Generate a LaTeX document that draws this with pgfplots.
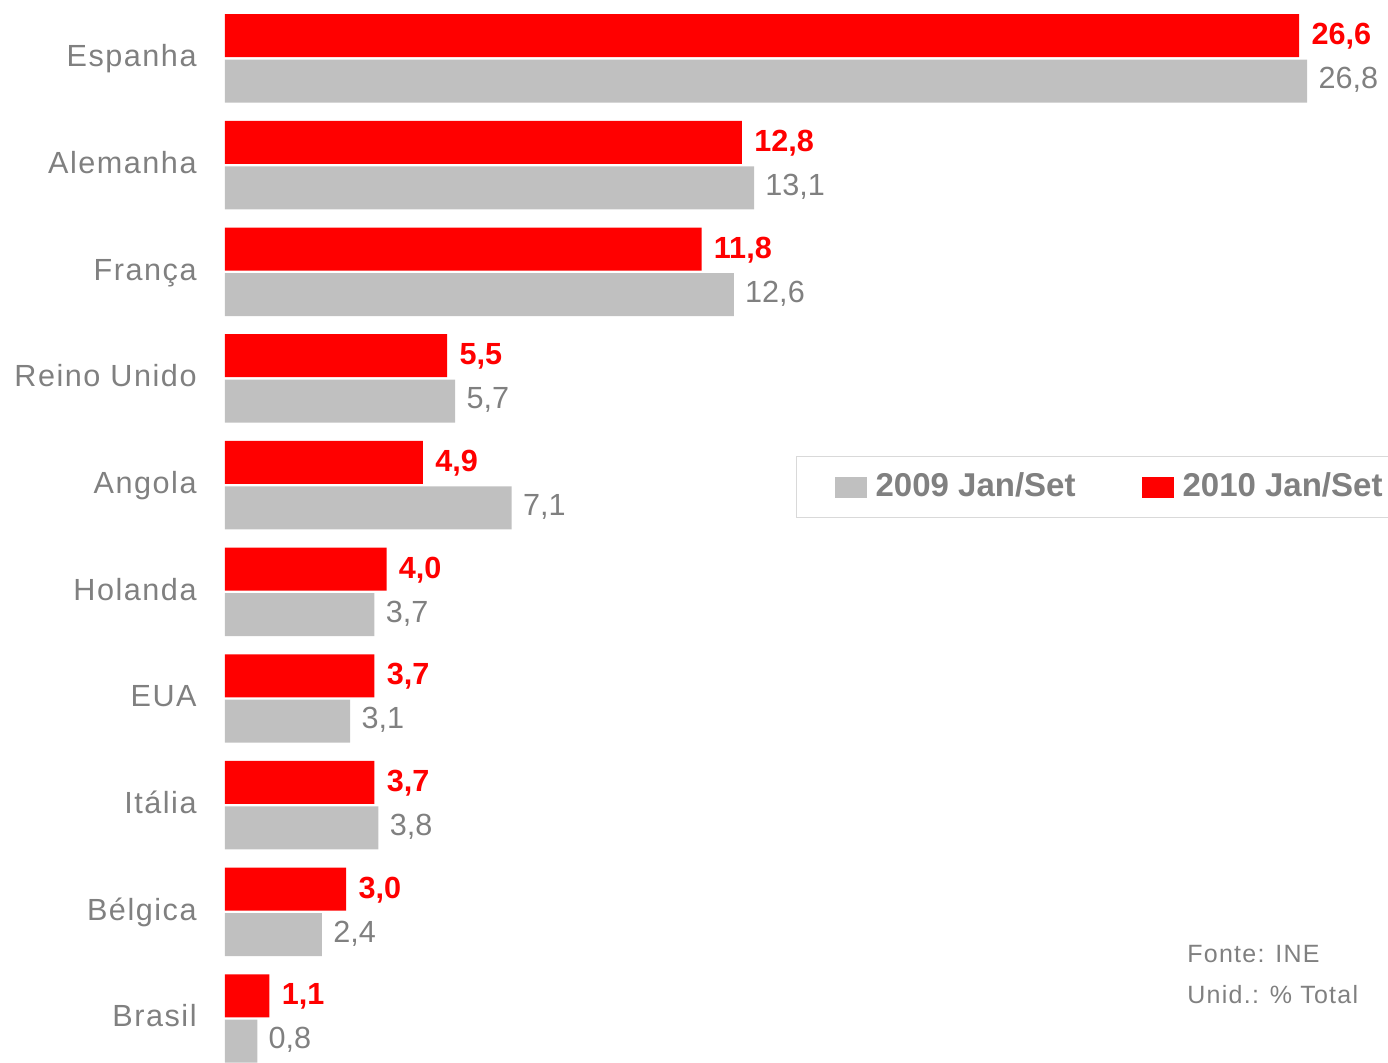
\documentclass[border=0pt]{standalone}
\usepackage{fontspec}
\setmainfont{Liberation Sans}
\newfontfamily\spaced[LetterSpace=5]{Liberation Sans}
\usepackage{pgfplots}
\pgfplotsset{compat=1.18}
\definecolor{barred}{RGB}{255,0,0}
\definecolor{bargray}{RGB}{192,192,192}
\definecolor{txtgray}{RGB}{128,128,128}
\definecolor{legborder}{RGB}{217,217,217}
\begin{document}
\begin{tikzpicture}
\useasboundingbox (0,0) rectangle (694pt,531pt);
\begin{axis}[
  at={(112.5pt,0pt)}, anchor=south west,
  scale only axis, width=581.5pt, height=531pt,
  xmin=0, xmax=28.8, ymin=-0.408, ymax=9.548,
  axis line style={draw=none},
  major tick length=0pt,
  xtick=\empty,
  ytick={0,1,2,3,4,5,6,7,8,9},
  yticklabels={Brasil,Bélgica,Itália,EUA,Holanda,Angola,Reino Unido,França,Alemanha,Espanha},
  yticklabel style={anchor=base east, inner sep=0pt, xshift=-14pt, yshift=-4.1pt,
    font=\spaced\fontsize{15.3}{18}\selectfont, text=txtgray},
  clip=false,
  point meta=explicit symbolic,
  legend columns=2,
  legend style={at={(axis description cs:0.491,0.5706)}, anchor=north west,
    draw=legborder, line width=0.6pt, fill=white,
    inner xsep=19pt, inner ysep=7.75pt,
    font=\bfseries\fontsize{16.5}{19}\selectfont, text=txtgray,
    nodes={inner sep=0pt, text height=12pt, text depth=3pt},
    cells={anchor=center},
    /tikz/every odd column/.append style={column sep=4.5pt},
    /tikz/every even column/.append style={column sep=33pt}},
]
\addplot[xbar, bar width=21.5pt, bar shift=0pt, fill=bargray, draw=none,
  legend image code/.code={\fill[bargray] (0pt,-5.25pt) rectangle (16pt,5.25pt);},
  nodes near coords,
  every node near coord/.append style={anchor=base west, inner sep=0pt, xshift=5.5pt, yshift=-3.75pt,
    font=\fontsize{15.3}{18}\selectfont, text=txtgray}]
coordinates {
(26.8,8.787) [26,8]
(13.1,7.787) [13,1]
(12.6,6.787) [12,6]
(5.7,5.787) [5,7]
(7.1,4.787) [7,1]
(3.7,3.787) [3,7]
(3.1,2.787) [3,1]
(3.8,1.787) [3,8]
(2.4,0.787) [2,4]
(0.8,-0.213) [0,8]
};
\addlegendentry{2009 Jan/Set}
\addplot[xbar, bar width=21.5pt, bar shift=0pt, fill=barred, draw=none,
  legend image code/.code={\fill[barred] (0pt,-5.25pt) rectangle (16pt,5.25pt);},
  nodes near coords,
  every node near coord/.append style={anchor=base west, inner sep=0pt, xshift=6pt, yshift=-4.5pt,
    font=\bfseries\fontsize{15.3}{18}\selectfont, text=barred}]
coordinates {
(26.6,9.213) [26,6]
(12.8,8.213) [12,8]
(11.8,7.213) [11,8]
(5.5,6.213) [5,5]
(4.9,5.213) [4,9]
(4.0,4.213) [4,0]
(3.7,3.213) [3,7]
(3.7,2.213) [3,7]
(3.0,1.213) [3,0]
(1.1,0.213) [1,1]
};
\addlegendentry{2010 Jan/Set}
\end{axis}
\node[anchor=base west, inner sep=0pt, text=txtgray, font=\spaced\fontsize{12.5}{15}\selectfont] at (593.5pt,50pt) {Fonte: INE};
\node[anchor=base west, inner sep=0pt, text=txtgray, font=\spaced\fontsize{12.5}{15}\selectfont] at (593.5pt,29.5pt) {Unid.: \% Total};
\end{tikzpicture}
\end{document}
